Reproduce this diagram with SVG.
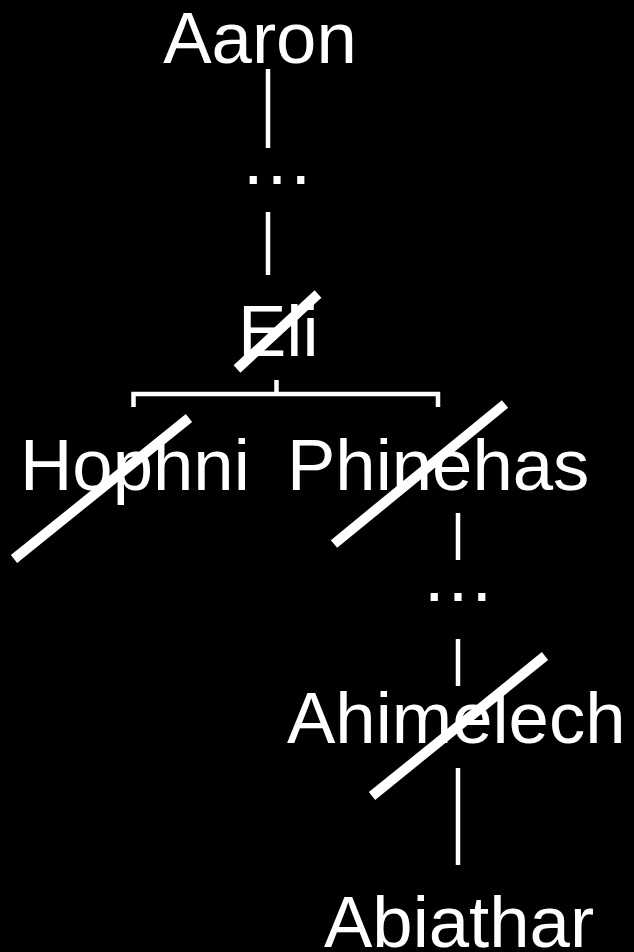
<svg xmlns="http://www.w3.org/2000/svg" width="634" height="952" viewBox="0 0 634 952">
<style>
text{font-family:"Liberation Sans",Arial,sans-serif;font-size:72.5px;fill:#fff}
.c{stroke:#fff;stroke-width:4.5;fill:none}
.x{stroke:#fff;stroke-width:10;fill:none}
</style>
<rect width="634" height="952" fill="#000"/>
<g id="connectors">
<line class="c" x1="268" y1="69" x2="268" y2="148"/>
<text x="277" y="184" text-anchor="middle" style="font-size:75px">…</text>
<line class="c" x1="268" y1="212" x2="268" y2="275"/>
<polyline class="c" points="276.5,380 276.5,394"/>
<polyline class="c" points="133.5,407 133.5,394 438,394 438,407"/>
<line class="c" x1="458" y1="513" x2="458" y2="560"/>
<text x="458" y="601" text-anchor="middle" style="font-size:75px">…</text>
<line class="c" x1="458" y1="639" x2="458" y2="686"/>
<line class="c" x1="458" y1="768" x2="458" y2="865"/>
</g>
<g id="aaron"><text x="260" y="63" text-anchor="middle">Aaron</text></g>
<g id="eli"><text x="238" y="356">Eli</text><line class="x" x1="237" y1="369" x2="318" y2="294"/></g>
<g id="hophni"><text x="20" y="490">Hophni</text><line class="x" x1="14" y1="559" x2="189" y2="418"/></g>
<g id="phinehas"><text x="287" y="490">Phinehas</text><line class="x" x1="334" y1="544" x2="505" y2="404"/></g>
<g id="ahimelech"><text x="287" y="743">Ahimelech</text><line class="x" x1="372" y1="796" x2="545" y2="656"/></g>
<g id="abiathar"><text x="324" y="947">Abiathar</text></g>
</svg>
